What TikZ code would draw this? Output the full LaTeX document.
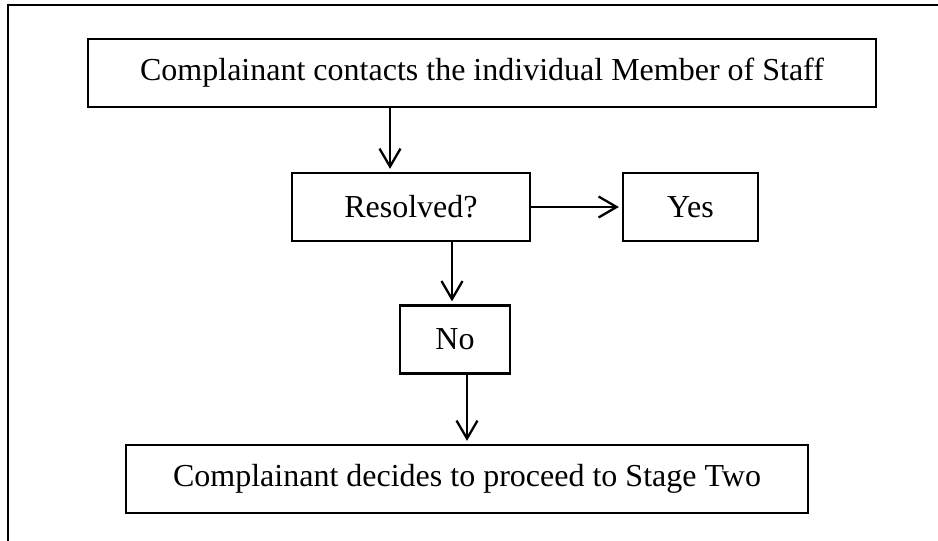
\documentclass[tikz,border=0pt]{standalone}
\usepackage{fontspec}
\setmainfont{Liberation Serif}
\usetikzlibrary{arrows.meta}
\begin{document}
\begin{tikzpicture}[x=1pt,y=-1pt,
  box/.style={draw=black,line width=2.3pt,rectangle,inner sep=0pt,font=\fontsize{32}{38}\selectfont},
  arr/.style={draw=black,line width=2.3pt,-{Straight Barb[length=18pt,width=21pt,line width=2.3pt]},shorten >=3pt}]
\useasboundingbox (0,0) rectangle (938,541);
\draw[line width=2.3pt] (8,541) -- (8,5) -- (938,5);
\node[box,minimum width=788pt,minimum height=68pt] (top) at (482,73) {Complainant contacts the individual Member of Staff};
\node[box,minimum width=238pt,minimum height=68pt] (res) at (411,207) {Resolved?};
\node[box,minimum width=135pt,minimum height=68pt] (yes) at (690.5,207) {Yes};
\node[box,minimum width=110pt,minimum height=68pt] (no) at (455,339.5) {No};
\node[box,minimum width=682pt,minimum height=68pt] (bot) at (467,479) {Complainant decides to proceed to Stage Two};
\coordinate (c1) at (390,0);
\coordinate (c2) at (452,0);
\coordinate (c3) at (467,0);
\draw[arr] (top.south -| c1) -- (res.north -| c1);
\draw[arr] (res.east) -- (yes.west);
\draw[arr] (res.south -| c2) -- (no.north -| c2);
\draw[arr] (no.south -| c3) -- (bot.north -| c3);
\end{tikzpicture}
\end{document}
